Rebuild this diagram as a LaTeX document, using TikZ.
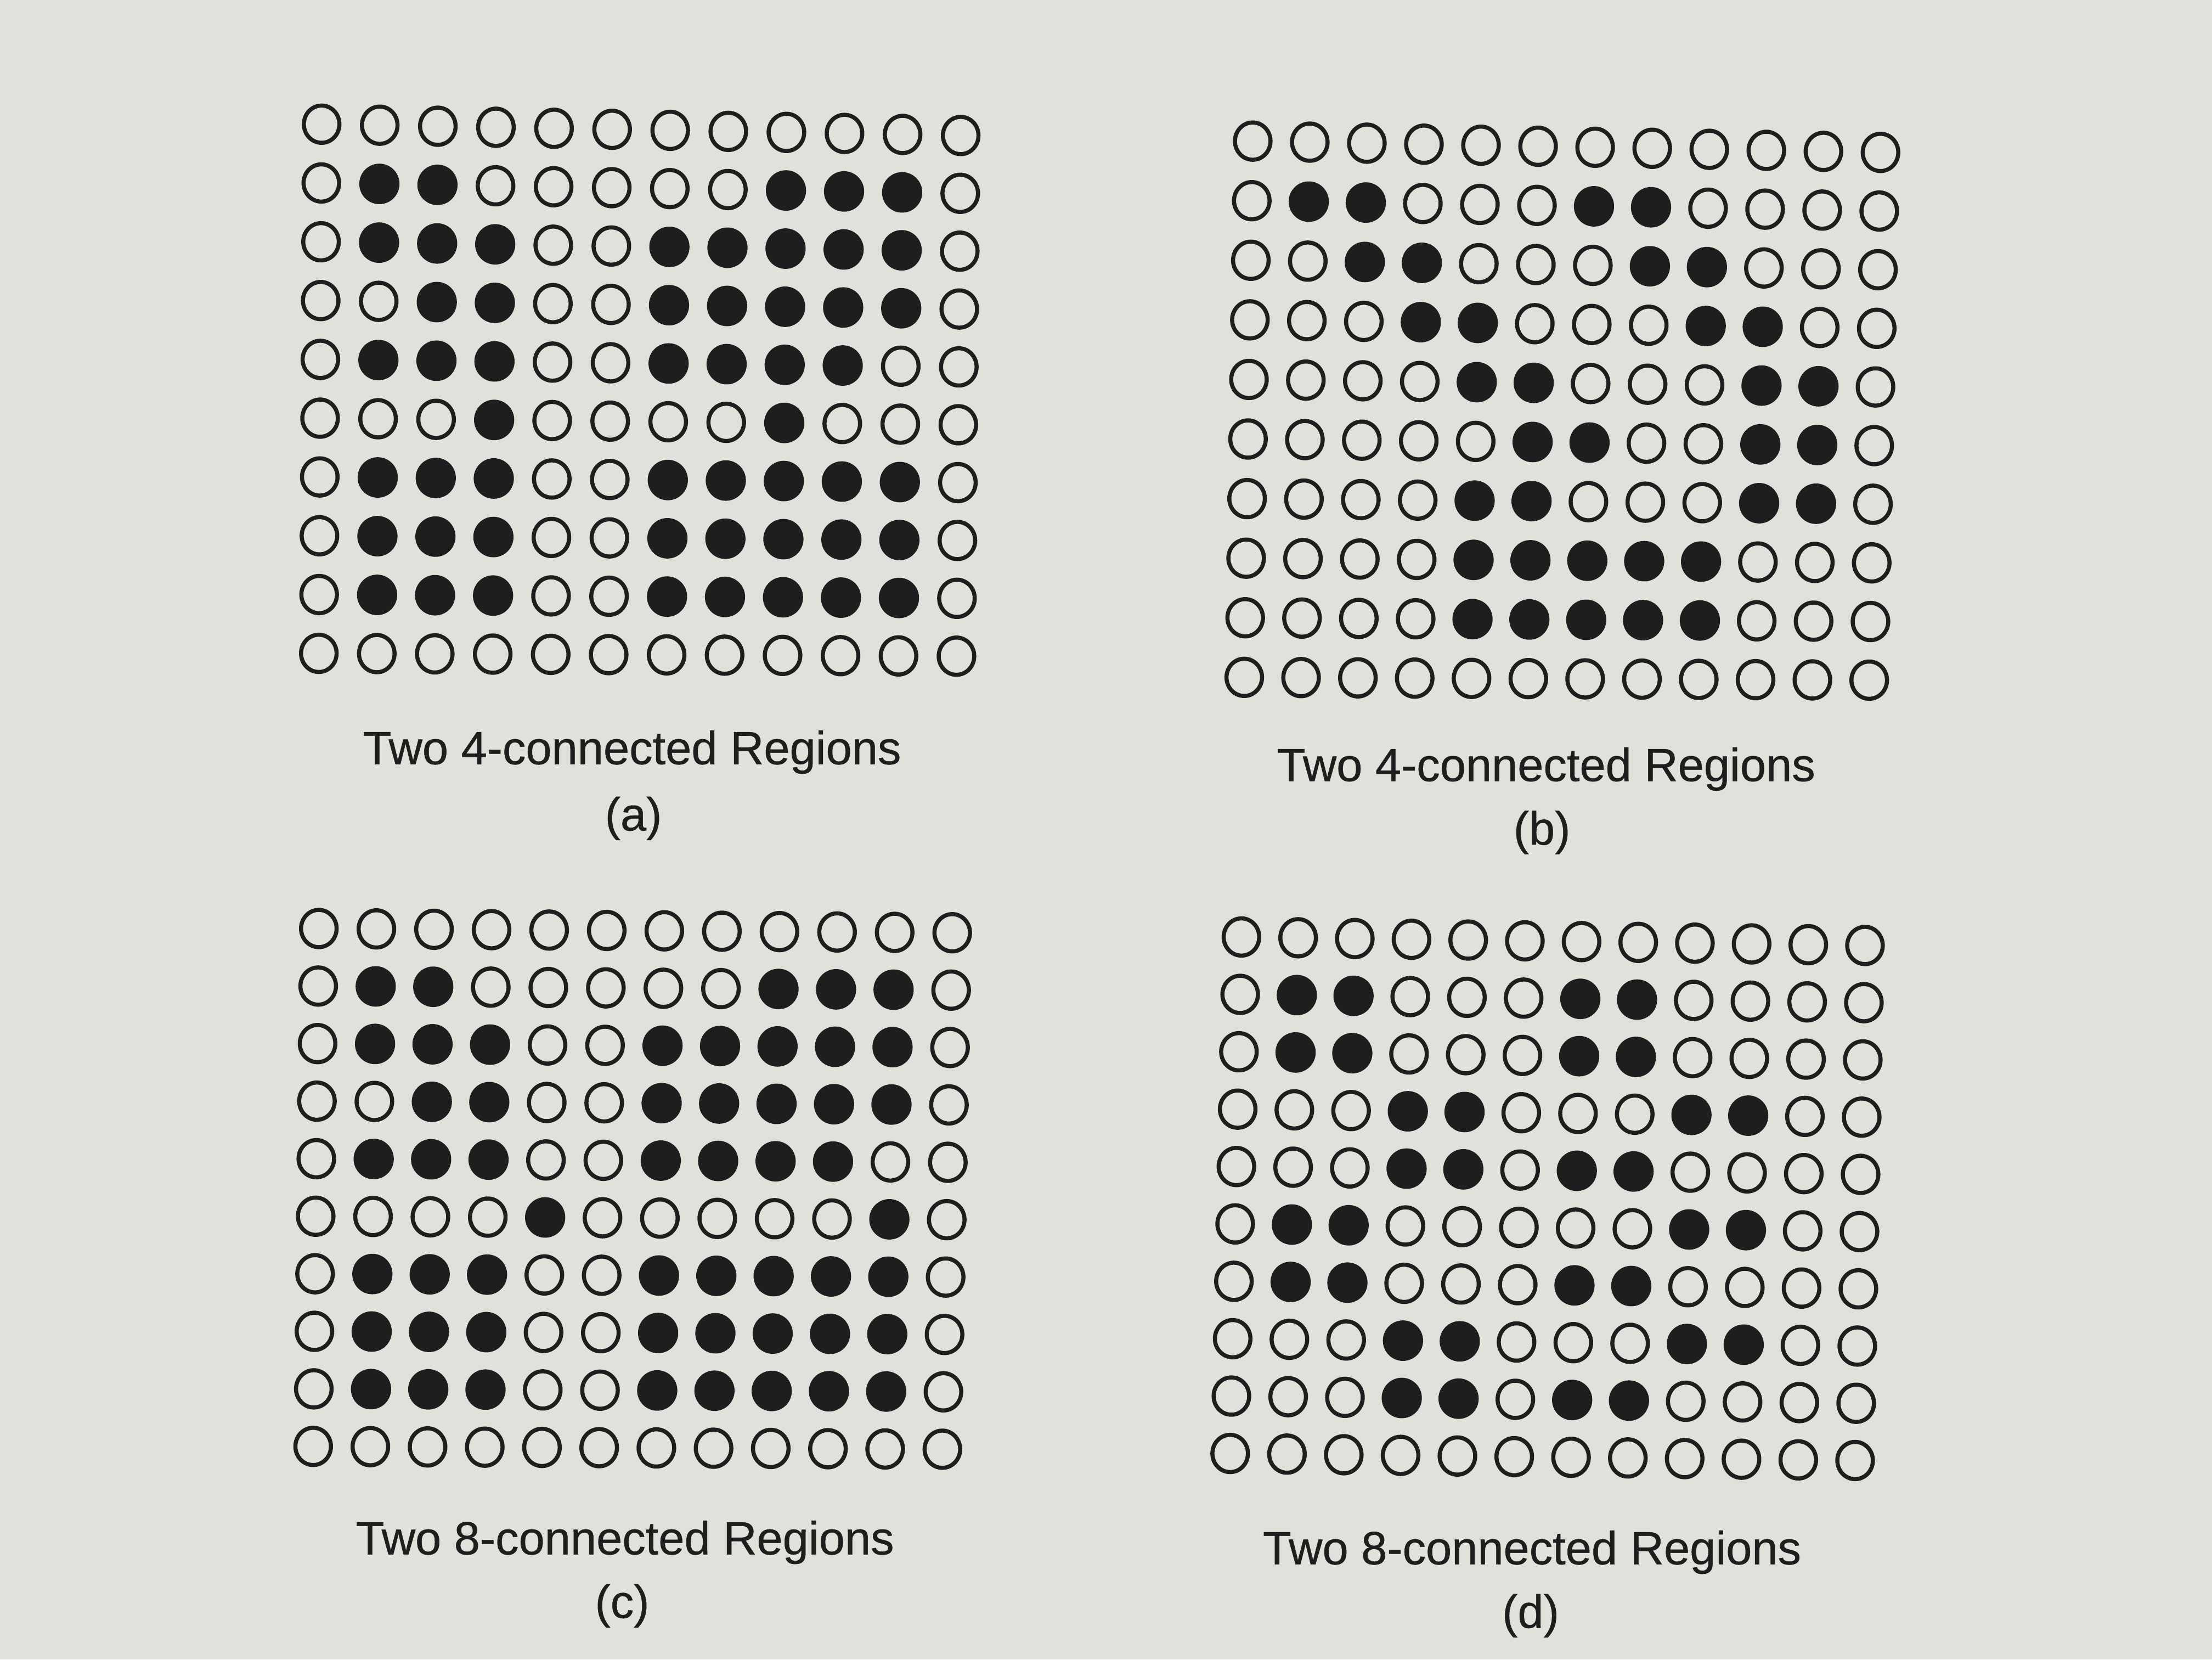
\documentclass[tikz,border=0pt]{standalone}
\usepackage{fontspec}
\setmainfont{Liberation Sans}
\newfontfamily\capfont{Liberation Sans}[FakeBold=0.6]
\usetikzlibrary{shapes.geometric}
\definecolor{paper}{RGB}{225,225,219}
\definecolor{ink}{RGB}{30,30,30}
\tikzset{
  cellopen/.style={ellipse, draw=ink, line width=2.9pt, minimum width=25.2pt, minimum height=26.4pt, inner sep=0pt},
  cellfull/.style={ellipse, draw=ink, fill=ink, line width=2.9pt, minimum width=25.6pt, minimum height=25.8pt, inner sep=0pt},
  caption/.style={font=\capfont\fontsize{33}{40}\selectfont, text=ink, inner sep=0pt}
}
% #1 name, #2..#9 corner centres: TL, TR, BL, BR ; rows taken from \gridrows
\newcommand\cellgrid[9]{%
  \foreach \row [count=\r from 0] in \gridrows {%
    \foreach \v [count=\c from 0] in \row {%
      \pgfmathsetmacro\uu{\c/11}%
      \pgfmathsetmacro\ww{\r/9}%
      \pgfmathsetmacro\px{(1-\uu)*(1-\ww)*#2+\uu*(1-\ww)*#4+(1-\uu)*\ww*#6+\uu*\ww*#8}%
      \pgfmathsetmacro\py{(1-\uu)*(1-\ww)*#3+\uu*(1-\ww)*#5+(1-\uu)*\ww*#7+\uu*\ww*#9}%
      \ifnum\v=1
        \node[cellfull] (#1-\r-\c) at (\px,\py) {};
      \else
        \node[cellopen] (#1-\r-\c) at (\px,\py) {};
      \fi
    }%
  }%
}
\begin{document}
\begin{tikzpicture}[x=1pt,y=-1pt]
\fill[paper] (0,0) rectangle (1568,1176);
\useasboundingbox (0,0) rectangle (1568,1176);

% (a)
\def\gridrows{{0,0,0,0,0,0,0,0,0,0,0,0},
{0,1,1,0,0,0,0,0,1,1,1,0},
{0,1,1,1,0,0,1,1,1,1,1,0},
{0,0,1,1,0,0,1,1,1,1,1,0},
{0,1,1,1,0,0,1,1,1,1,0,0},
{0,0,0,1,0,0,0,0,1,0,0,0},
{0,1,1,1,0,0,1,1,1,1,1,0},
{0,1,1,1,0,0,1,1,1,1,1,0},
{0,1,1,1,0,0,1,1,1,1,1,0},
{0,0,0,0,0,0,0,0,0,0,0,0}}
\cellgrid{a}{228}{88}{681}{96}{226}{463}{678}{465}

% (b)
\def\gridrows{{0,0,0,0,0,0,0,0,0,0,0,0},
{0,1,1,0,0,0,1,1,0,0,0,0},
{0,0,1,1,0,0,0,1,1,0,0,0},
{0,0,0,1,1,0,0,0,1,1,0,0},
{0,0,0,0,1,1,0,0,0,1,1,0},
{0,0,0,0,0,1,1,0,0,1,1,0},
{0,0,0,0,1,1,0,0,0,1,1,0},
{0,0,0,0,1,1,1,1,1,0,0,0},
{0,0,0,0,1,1,1,1,1,0,0,0},
{0,0,0,0,0,0,0,0,0,0,0,0}}
\cellgrid{b}{888}{100}{1333}{108}{882}{480}{1325}{482}

% (c)
\def\gridrows{{0,0,0,0,0,0,0,0,0,0,0,0},
{0,1,1,0,0,0,0,0,1,1,1,0},
{0,1,1,1,0,0,1,1,1,1,1,0},
{0,0,1,1,0,0,1,1,1,1,1,0},
{0,1,1,1,0,0,1,1,1,1,0,0},
{0,0,0,0,1,0,0,0,0,0,1,0},
{0,1,1,1,0,0,1,1,1,1,1,0},
{0,1,1,1,0,0,1,1,1,1,1,0},
{0,1,1,1,0,0,1,1,1,1,1,0},
{0,0,0,0,0,0,0,0,0,0,0,0}}
\cellgrid{c}{226}{658}{675}{661}{222}{1025}{668}{1027}

% (d)
\def\gridrows{{0,0,0,0,0,0,0,0,0,0,0,0},
{0,1,1,0,0,0,1,1,0,0,0,0},
{0,1,1,0,0,0,1,1,0,0,0,0},
{0,0,0,1,1,0,0,0,1,1,0,0},
{0,0,0,1,1,0,1,1,0,0,0,0},
{0,1,1,0,0,0,0,0,1,1,0,0},
{0,1,1,0,0,0,1,1,0,0,0,0},
{0,0,0,1,1,0,0,0,1,1,0,0},
{0,0,0,1,1,0,1,1,0,0,0,0},
{0,0,0,0,0,0,0,0,0,0,0,0}}
\cellgrid{d}{880}{664}{1322}{670}{872}{1030}{1315}{1035}

% captions
\node[caption] (capa) at (448,533) {Two 4-connected Regions};
\node[caption] (laba) at (449,580) {(a)};
\node[caption] (capb) at (1096,545) {Two 4-connected Regions};
\node[caption] (labb) at (1093,590) {(b)};
\node[caption] (capc) at (443,1093) {Two 8-connected Regions};
\node[caption] (labc) at (441,1138) {(c)};
\node[caption] (capd) at (1086,1100) {Two 8-connected Regions};
\node[caption] (labd) at (1085,1145) {(d)};
\end{tikzpicture}
\end{document}
